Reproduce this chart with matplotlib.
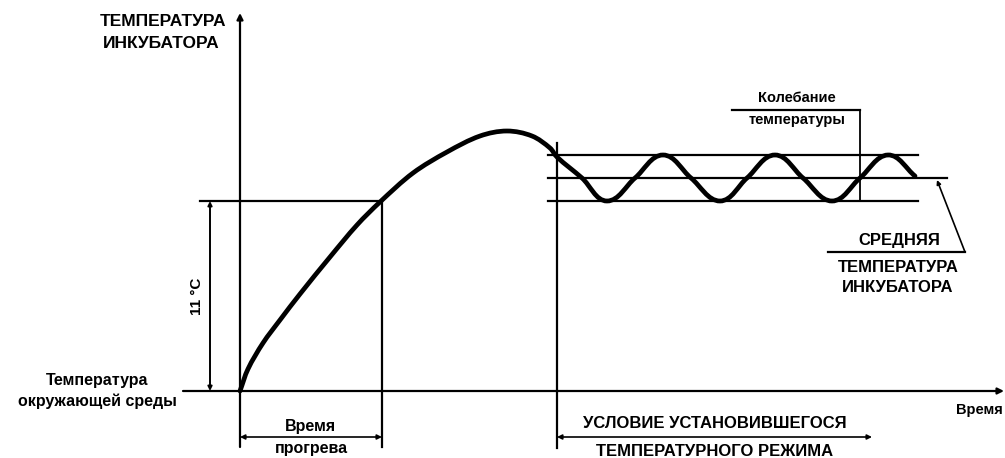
"""
Incubator warm-up diagram: temperature vs time, with the steady-state band.
"""

import numpy as np
import matplotlib
matplotlib.use('Agg')
import matplotlib.pyplot as plt
from matplotlib.path import Path
from matplotlib.patches import PathPatch

plt.rcParams['font.family'] = ['Liberation Sans', 'DejaVu Sans']

# chart units: time from the origin, temperature above ambient
HEAT_T = [0, 8, 23, 40, 60, 90, 117, 140, 173, 207, 240, 267, 292, 310, 317]
HEAT_Y = [0, 22, 48, 71, 97, 134, 166, 189, 218, 239, 255, 260, 255, 243, 234]
WAVE_T = [342, 367, 395, 423, 451, 480, 507, 535, 563, 592, 620, 648, 675]
WAVE_Y = [213, 190, 213, 236, 213, 190, 213, 236, 213, 190, 213, 236, 215]

RISE_LEVEL = 190        # the 11 °C mark
WARMUP_END = 142        # end of the warm-up time
STEADY_START = 317      # start of steady state
BAND_HIGH = 236
BAND_MEAN = 213
BAND_LOW = 190

Y_LABEL = ['ТЕМПЕРАТУРА', 'ИНКУБАТОРА']
AMBIENT_LABEL = ['Температура', 'окружающей среды']
WARMUP_LABEL = ['Время', 'прогрева']
STEADY_LABEL = ['УСЛОВИЕ УСТАНОВИВШЕГОСЯ', 'ТЕМПЕРАТУРНОГО РЕЖИМА']
SWING_LABEL = ['Колебание', 'температуры']
MEAN_LABEL = ['СРЕДНЯЯ', 'ТЕМПЕРАТУРА', 'ИНКУБАТОРА']
RISE_LABEL = '11 °C'
X_LABEL = 'Время'


def smooth_path(xs, ys):
	# smooth curve through the read points: cubic Bezier pieces,
	# tangent from the neighbours, handle length from the chord
	pts = np.column_stack([xs, ys]).astype(float)
	n = len(pts)
	tang = []
	for i in range(n):
		d = pts[min(i + 1, n - 1)] - pts[max(i - 1, 0)]
		tang.append(d / np.hypot(*d))
	verts = [pts[0]]
	codes = [Path.MOVETO]
	for i in range(n - 1):
		L = np.hypot(*(pts[i + 1] - pts[i])) / 3
		verts += [pts[i] + tang[i] * L, pts[i + 1] - tang[i + 1] * L, pts[i + 1]]
		codes += [Path.CURVE4] * 3
	return Path(verts, codes)


def arrow(ax, x0, y0, x1, y1, style='-|>', ms=10, lw=1.6):
	ax.annotate('', xy=(x1, y1), xytext=(x0, y0),
		arrowprops=dict(arrowstyle=style, color='black', lw=lw,
			mutation_scale=ms, shrinkA=0, shrinkB=0))


def main():
	fig = plt.figure(figsize=(10.05, 4.58), dpi=100)
	ax = fig.add_axes([0, 0, 1, 1])
	ax.set_xlim(-240, 765)
	ax.set_ylim(-67, 391)
	ax.axis('off')

	k = dict(color='black', lw=1.6)

	# axes with arrows
	arrow(ax, 0, -56, 0, 378, ms=9)
	arrow(ax, -57, 0, 764, 0, ms=9)

	# warm-up box and 11 °C dimension
	ax.plot([-40, WARMUP_END], [RISE_LEVEL, RISE_LEVEL], **k)
	ax.plot([WARMUP_END, WARMUP_END], [RISE_LEVEL, -56], **k)
	arrow(ax, -30, 0, -30, RISE_LEVEL, style='<|-|>', ms=6, lw=1.4)
	ax.text(-43, RISE_LEVEL / 2, RISE_LABEL, rotation=90, ha='center', va='center',
		fontsize=11, fontweight='bold')

	# steady state band
	ax.plot([STEADY_START, STEADY_START], [248, -57], **k)
	ax.plot([308, 678], [BAND_HIGH, BAND_HIGH], **k)
	ax.plot([308, 707], [BAND_MEAN, BAND_MEAN], **k)
	ax.plot([308, 678], [BAND_LOW, BAND_LOW], **k)

	# temperature curve
	ax.add_patch(PathPatch(smooth_path(HEAT_T + WAVE_T, HEAT_Y + WAVE_Y),
		fill=False, lw=3.4, color='black', capstyle='round'))

	# dimension lines under the time axis
	arrow(ax, 0, -46, WARMUP_END, -46, style='<|-|>', ms=7, lw=1.2)
	arrow(ax, STEADY_START, -46, 632, -46, style='<|-|>', ms=7, lw=1.2)

	# swing leader
	ax.plot([492, 620], [281, 281], **k)
	ax.plot([620, 620], [281, BAND_LOW], color='black', lw=1.3)

	# mean temperature leader
	ax.plot([588, 725], [139, 139], **k)
	arrow(ax, 725, 139, 697, BAND_MEAN - 2, ms=6, lw=1.2)

	tb = dict(fontweight='bold', ha='center', va='center')
	ax.text(-77, 370, Y_LABEL[0], fontsize=12.5, **tb)
	ax.text(-79, 348, Y_LABEL[1], fontsize=12.5, **tb)
	ax.text(-143, 11, AMBIENT_LABEL[0], fontsize=11.5, **tb)
	ax.text(-143, -10, AMBIENT_LABEL[1], fontsize=11.5, **tb)
	ax.text(70, -36, WARMUP_LABEL[0], fontsize=11.5, **tb)
	ax.text(71, -58, WARMUP_LABEL[1], fontsize=11.5, **tb)
	ax.text(475, -33, STEADY_LABEL[0], fontsize=12, **tb)
	ax.text(475, -61, STEADY_LABEL[1], fontsize=12, **tb)
	ax.text(557, 293, SWING_LABEL[0], fontsize=10.5, **tb)
	ax.text(557, 271, SWING_LABEL[1], fontsize=10.5, **tb)
	ax.text(659, 150, MEAN_LABEL[0], fontsize=12, **tb)
	ax.text(658, 123, MEAN_LABEL[1], fontsize=12, **tb)
	ax.text(658, 104, MEAN_LABEL[2], fontsize=12, **tb)
	ax.text(763, -19, X_LABEL, fontsize=10.5, fontweight='bold', ha='right', va='center')

	fig.savefig('out.png', dpi=100, facecolor='white')


if __name__ == '__main__':
	main()
